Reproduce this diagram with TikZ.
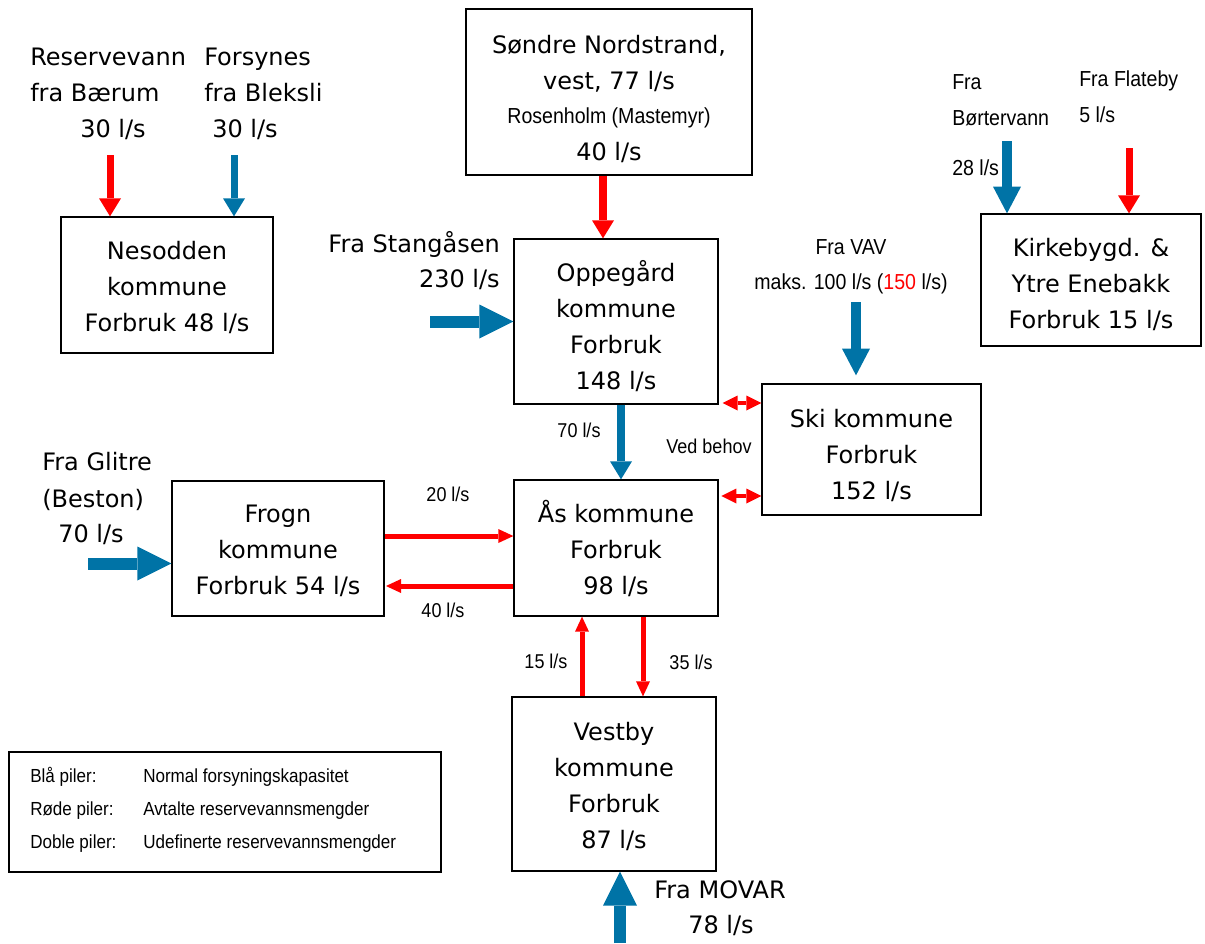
\documentclass[tikz,border=0pt]{standalone}
\usepackage{fontspec}
\setmainfont{DejaVu Sans}
\newfontfamily\nar[FakeStretch=0.9]{Liberation Sans}
\usetikzlibrary{arrows.meta}
\definecolor{cblue}{RGB}{0,115,166}
\definecolor{cred}{RGB}{255,0,0}
\newcommand\txtbig{\fontsize{18}{27}\selectfont}
\newcommand\txtsm{\nar\fontsize{16.3}{20}\selectfont}
\newcommand\txtmid{\nar\fontsize{15}{20}\selectfont}
\newcommand\txtleg{\nar\fontsize{14.2}{20}\selectfont}
\tikzset{
  box/.style={draw, line width=1pt, inner sep=0pt},
  boxtxt/.style={align=center, inner sep=0pt, font=\txtbig},
  big/.style={inner sep=0pt, font=\txtbig},
  sm/.style={inner sep=0pt, font=\txtsm},
  mid/.style={inner sep=0pt, font=\txtmid},
  leg/.style={inner sep=0pt, font=\txtleg, anchor=base west},
  rthin/.style={cred, line width=5.25pt, -{Triangle[width=16.5pt,length=13.5pt,line width=0pt]}},
  bthin/.style={cblue, line width=5.25pt, -{Triangle[width=16.5pt,length=13.5pt,line width=0pt]}},
  bmid/.style={cblue, line width=7pt, -{Triangle[width=21pt,length=20pt,line width=0pt]}},
  bbig/.style={cblue, line width=9pt, -{Triangle[width=25.5pt,length=25.5pt,line width=0pt]}},
  rsm/.style={cred, line width=3.75pt, -{Triangle[width=10.5pt,length=11.25pt,line width=0pt]}},
  rdbl/.style={cred, line width=3pt, {Triangle[width=11.25pt,length=11.25pt,line width=0pt]}-{Triangle[width=11.25pt,length=11.25pt,line width=0pt]}},
}
\begin{document}
\begin{tikzpicture}[x=0.75pt,y=-0.75pt]
\useasboundingbox (0,0) rectangle (1205,943);

% boxes
\node[box, minimum width=159pt, minimum height=102pt] (nes) at (167,285) {};
\node[boxtxt] (nest) at (167,287) {Nesodden\\kommune\\Forbruk 48 l/s};
\node[draw, line width=1.8pt, minimum width=214.5pt, minimum height=124.5pt] (sn) at (609,92) {};
\node[box, minimum width=153pt, minimum height=123.75pt] (opp) at (616,321.5) {};
\node[boxtxt] (oppt) at (616,326.5) {Oppegård\\kommune\\Forbruk\\148 l/s};
\node[box, minimum width=165pt, minimum height=99pt] (kirk) at (1091,280) {};
\node[boxtxt] (kirkt) at (1091,284) {Kirkebygd. \&\\Ytre Enebakk\\Forbruk 15 l/s};
\node[box, minimum width=164.25pt, minimum height=98.25pt] (ski) at (871.5,449.5) {};
\node[boxtxt] (skit) at (871.5,455) {Ski kommune\\Forbruk\\152 l/s};
\node[box, minimum width=153pt, minimum height=102pt] (aas) at (616,548) {};
\node[boxtxt] (aast) at (616,548) {Ås kommune\\Forbruk\\98 l/s};
\node[box, minimum width=159pt, minimum height=101.25pt] (frogn) at (278,548.5) {};
\node[boxtxt] (frognt) at (278,550.5) {Frogn\\kommune\\Forbruk 54 l/s};
\node[box, minimum width=153pt, minimum height=130.5pt] (vest) at (614,784) {};
\node[boxtxt] (vestt) at (614,786) {Vestby\\kommune\\Forbruk\\87 l/s};
\node[draw, line width=0.8pt, minimum width=324pt, minimum height=90pt] (legbox) at (225,812) {};

% Søndre Nordstrand text
\node[big, anchor=base] (sn1) at (609,53) {Søndre Nordstrand,};
\node[big, anchor=base] (sn2) at (609,89) {vest, 77 l/s};
\node[sm, anchor=base] (sn3) at (609,123) {Rosenholm (Mastemyr)};
\node[big, anchor=base] (sn4) at (609,160) {40 l/s};

% legend
\node[leg] (l1a) at (30,782) {Blå piler:};
\node[leg] (l1b) at (143,782) {Normal forsyningskapasitet};
\node[leg] (l2a) at (30,815) {Røde piler:};
\node[leg] (l2b) at (143,815) {Avtalte reservevannsmengder};
\node[leg] (l3a) at (30,848) {Doble piler:};
\node[leg] (l3b) at (143,848) {Udefinerte reservevannsmengder};

% labels
\node[big, anchor=base west] (bae1) at (30,65) {Reservevann};
\node[big, anchor=base west] (bae2) at (30,101) {fra Bærum};
\node[big, anchor=base west] (bae3) at (80,137) {30 l/s};
\node[big, anchor=base west] (ble1) at (204,65) {Forsynes};
\node[big, anchor=base west] (ble2) at (204,101) {fra Bleksli};
\node[big, anchor=base west] (ble3) at (212,137) {30 l/s};
\node[big, anchor=base east] (stg1) at (500,252) {Fra Stangåsen};
\node[big, anchor=base east] (stg2) at (500,287) {230 l/s};
\node[sm, anchor=base] (vav1) at (851,254) {Fra VAV};
\node[sm, anchor=base] (vav2) at (851,289) {maks. 100 l/s ({\color{cred}150} l/s)};
\node[sm, anchor=base west] (bor1) at (952,89) {Fra};
\node[sm, anchor=base west] (bor2) at (952,125) {Børtervann};
\node[sm, anchor=base west] (bor3) at (952,175) {28 l/s};
\node[sm, anchor=base west] (fla1) at (1079,86) {Fra Flateby};
\node[sm, anchor=base west] (fla2) at (1079,122) {5 l/s};
\node[mid, anchor=base] (l70) at (579,437) {70 l/s};
\node[mid, anchor=base] (ved) at (709,453) {Ved behov};
\node[big, anchor=base west] (gl1) at (42,470) {Fra Glitre};
\node[big, anchor=base west] (gl2) at (42,507) {(Beston)};
\node[big, anchor=base west] (gl3) at (58,542) {70 l/s};
\node[mid, anchor=base] (l20) at (448,501) {20 l/s};
\node[mid, anchor=base] (l40) at (443,617) {40 l/s};
\node[mid, anchor=base] (l15) at (546,668) {15 l/s};
\node[mid, anchor=base] (l35) at (691,669) {35 l/s};
\node[big, anchor=base] (mv1) at (720,898) {Fra MOVAR};
\node[big, anchor=base] (mv2) at (721,933) {78 l/s};

% arrows
\coordinate (bae0) at (110,155);
\draw[rthin] (bae0) -- (bae0 |- nes.north);
\coordinate (ble0) at (234,155);
\draw[bthin] (ble0) -- (ble0 |- nes.north);
\coordinate (snx) at (603,0);
\draw[rthin, line width=6pt] (snx |- sn.south) -- (snx |- opp.north);
\coordinate (stg0) at (430,321.5);
\draw[bbig] (stg0) -- (stg0 -| opp.west);
\coordinate (vav0) at (856,302);
\draw[bmid, shorten >=6pt] (vav0) -- (vav0 |- ski.north);
\coordinate (bor0) at (1007,141);
\draw[bmid] (bor0) -- (bor0 |- kirk.north);
\coordinate (fla0) at (1129,148);
\draw[rthin] (fla0) -- (fla0 |- kirk.north);
\coordinate (x70) at (621,0);
\draw[bthin, line width=6pt] (x70 |- opp.south) -- (x70 |- aas.north);
\coordinate (d1) at (0,403);
\draw[rdbl, shorten <=3pt] (d1 -| opp.east) -- (d1 -| ski.west);
\coordinate (d2) at (0,496);
\draw[rdbl, shorten <=2pt] (d2 -| aas.east) -- (d2 -| ski.west);
\coordinate (f1) at (0,536);
\draw[rsm] (f1 -| frogn.east) -- (f1 -| aas.west);
\coordinate (f2) at (0,586);
\draw[rsm, shorten >=1pt] (f2 -| aas.west) -- (f2 -| frogn.east);
\coordinate (gl0) at (88,563.5);
\draw[bbig] (gl0) -- (gl0 -| frogn.west);
\coordinate (v1) at (582,0);
\draw[rsm] (v1 |- vest.north) -- (v1 |- aas.south);
\coordinate (v2) at (643,0);
\draw[rsm] (v2 |- aas.south) -- (v2 |- vest.north);
\coordinate (mv0) at (620,943);
\draw[bbig] (mv0) -- (mv0 |- vest.south);
\end{tikzpicture}
\end{document}
